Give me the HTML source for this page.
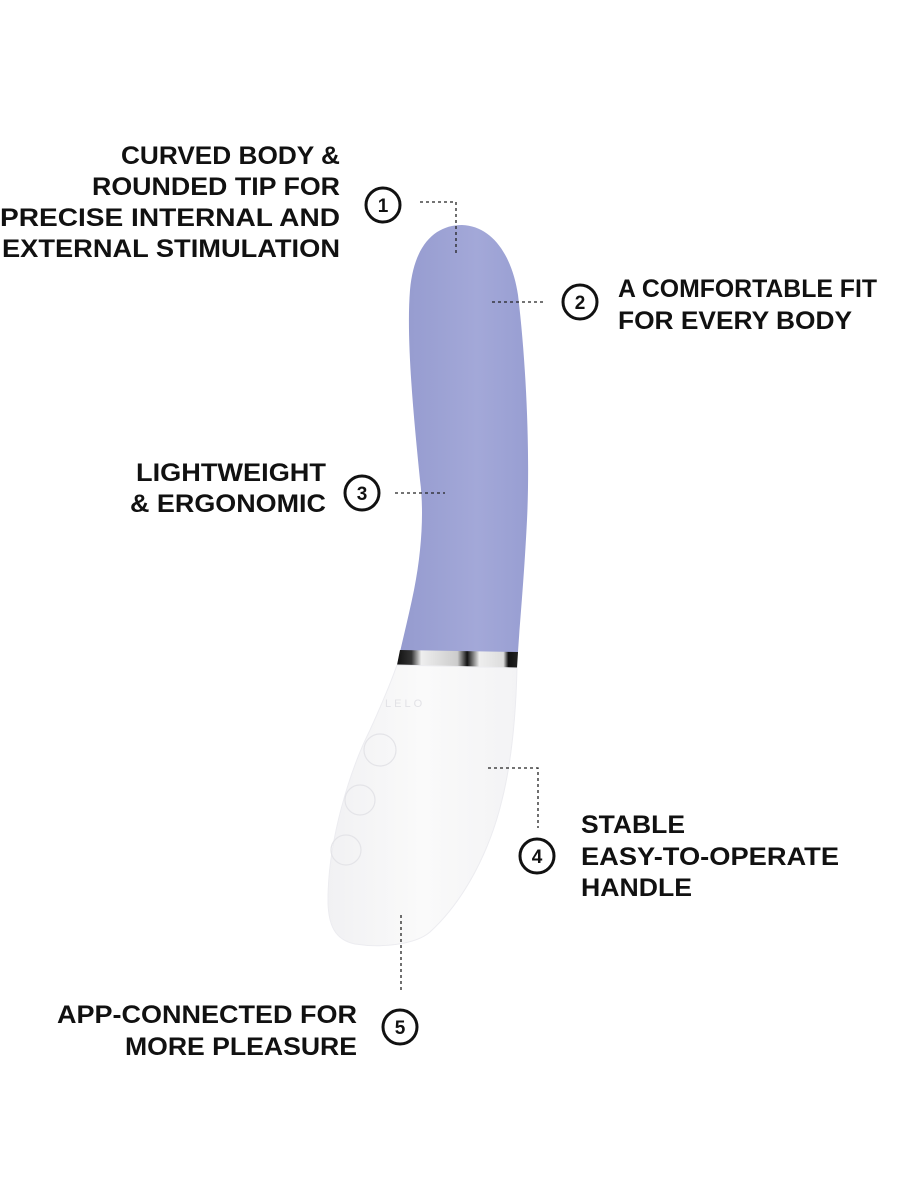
<!DOCTYPE html>
<html><head><meta charset="utf-8"><style>
html,body{margin:0;padding:0;background:#fff;}
svg{display:block;}
text{font-family:"Liberation Sans",sans-serif;font-weight:bold;font-size:25px;fill:#111;}
.n{font-size:19px;text-anchor:middle;}
.d{stroke:#222;stroke-width:1.3;stroke-dasharray:3 3;fill:none;}
.c{stroke:#111;stroke-width:3;fill:#fff;}
</style></head><body>
<svg width="901" height="1200" viewBox="0 0 901 1200">
<defs>
<linearGradient id="p" x1="0" x2="1" y1="0" y2="0">
<stop offset="0" stop-color="#959bcf"/><stop offset="0.6" stop-color="#a3a8d8"/><stop offset="1" stop-color="#989ed2"/></linearGradient>
<linearGradient id="w" x1="0" x2="1"><stop offset="0" stop-color="#f1f1f3"/><stop offset="0.5" stop-color="#fafafa"/><stop offset="1" stop-color="#f3f3f5"/></linearGradient>
<linearGradient id="b" x1="0" x2="1"><stop offset="0" stop-color="#111"/><stop offset="0.12" stop-color="#333"/><stop offset="0.2" stop-color="#eee"/><stop offset="0.5" stop-color="#ccc"/><stop offset="0.58" stop-color="#111"/><stop offset="0.68" stop-color="#eee"/><stop offset="0.88" stop-color="#ddd"/><stop offset="0.92" stop-color="#111"/><stop offset="1" stop-color="#222"/></linearGradient>
</defs>
<path d="M400,652 C405,630 410,610 414,590 C422,550 424,510 420,480 C414,420 406,340 410,290 C414,245 435,225 462,225 C492,226 512,255 518,295 C527,370 530,460 527,520 C524,580 520,620 518,652 Z" fill="url(#p)"/>
<path d="M400,650 L518,652 L517,668 L397,665 Z" fill="url(#b)"/>
<path d="M397,665 L517,668 C516,710 512,760 502,800 C490,850 465,900 430,932 C415,945 380,948 355,944 C335,940 328,925 328,900 C328,840 350,770 370,730 C380,708 390,685 397,665 Z" fill="url(#w)" stroke="#ececf0" stroke-width="1"/>
<text x="385" y="707" style="font-size:11px;font-weight:normal;fill:#e2e2e6;letter-spacing:3px">LELO</text>
<g stroke="#e4e4e8" stroke-width="1.2" fill="none">
<circle cx="380" cy="750" r="16"/><circle cx="360" cy="800" r="15"/><circle cx="346" cy="850" r="15"/>
</g>
<path class="d" d="M420,202 H456 V255"/>
<path class="d" d="M492,302 H545"/>
<path class="d" d="M395,493 H445"/>
<path class="d" d="M488,768 H538 V828"/>
<path class="d" d="M401,915 V992"/>
<circle class="c" cx="383" cy="205" r="17"/><text class="n" x="383" y="212">1</text>
<circle class="c" cx="580" cy="302" r="17"/><text class="n" x="580" y="309">2</text>
<circle class="c" cx="362" cy="493" r="17"/><text class="n" x="362" y="500">3</text>
<circle class="c" cx="537" cy="856" r="17"/><text class="n" x="537" y="863">4</text>
<circle class="c" cx="400" cy="1027" r="17"/><text class="n" x="400" y="1034">5</text>
<g text-anchor="end">
<text x="340" y="164" textLength="219" lengthAdjust="spacingAndGlyphs">CURVED BODY &amp;</text>
<text x="340" y="195" textLength="248" lengthAdjust="spacingAndGlyphs">ROUNDED TIP FOR</text>
<text x="340" y="226" textLength="340" lengthAdjust="spacingAndGlyphs">PRECISE INTERNAL AND</text>
<text x="340" y="257" textLength="338" lengthAdjust="spacingAndGlyphs">EXTERNAL STIMULATION</text>
<text x="326" y="481" textLength="190" lengthAdjust="spacingAndGlyphs">LIGHTWEIGHT</text>
<text x="326" y="512" textLength="196" lengthAdjust="spacingAndGlyphs">&amp; ERGONOMIC</text>
<text x="357" y="1023" textLength="300" lengthAdjust="spacingAndGlyphs">APP-CONNECTED FOR</text>
<text x="357" y="1055" textLength="232" lengthAdjust="spacingAndGlyphs">MORE PLEASURE</text>
</g>
<text x="618" y="297" textLength="259" lengthAdjust="spacingAndGlyphs">A COMFORTABLE FIT</text>
<text x="618" y="329" textLength="234" lengthAdjust="spacingAndGlyphs">FOR EVERY BODY</text>
<text x="581" y="833" textLength="104" lengthAdjust="spacingAndGlyphs">STABLE</text>
<text x="581" y="865" textLength="258" lengthAdjust="spacingAndGlyphs">EASY-TO-OPERATE</text>
<text x="581" y="896" textLength="111" lengthAdjust="spacingAndGlyphs">HANDLE</text>
</svg>
</body></html>
